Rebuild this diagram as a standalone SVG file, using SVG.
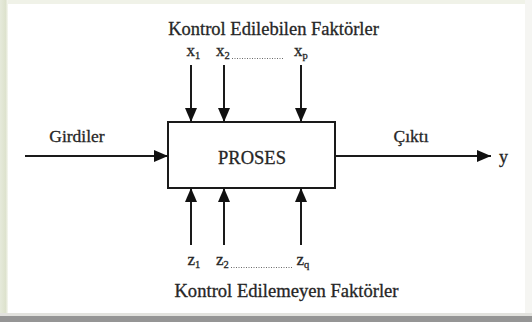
<svg xmlns="http://www.w3.org/2000/svg" width="532" height="322" viewBox="0 0 532 322">
<defs>
<linearGradient id="lg" x1="0" y1="0" x2="1" y2="0">
<stop offset="0" stop-color="#e6eadb"/>
<stop offset="0.7" stop-color="#dde2cd"/>
<stop offset="1" stop-color="#f7f8f2"/>
</linearGradient>
<marker id="ah" viewBox="0 0 14 12" refX="14" refY="6" markerWidth="14" markerHeight="12" markerUnits="userSpaceOnUse" orient="auto">
<path d="M0,0 L14,6 L0,12 Z" fill="#111"/>
</marker>
</defs>
<style>
.t{font-family:"Liberation Serif","Times New Roman",serif;fill:#262626;stroke:#262626;stroke-width:0.3;}
.ln{stroke:#1a1a1a;stroke-width:2;fill:none;}
.dot{stroke:#444;stroke-width:0.8;stroke-dasharray:1 1.5;}
</style>
<rect x="0" y="0" width="532" height="322" fill="#ffffff"/>
<rect x="0" y="0" width="532" height="4" fill="#f0f2e8"/>
<rect x="0" y="0" width="8" height="316" fill="url(#lg)"/>
<rect x="525" y="0" width="7" height="316" fill="#f5f5f2"/>
<rect x="0" y="313" width="532" height="3" fill="#e2e2de"/>
<rect x="0" y="316" width="532" height="6" fill="#959595"/>

<g id="proses">
<rect x="168" y="122" width="167" height="66" class="ln"/>
<text class="t" x="252" y="163.5" font-size="18.5" text-anchor="middle">PROSES</text>
</g>

<g id="kontrol-edilebilen">
<text class="t" x="273.5" y="34.5" font-size="18.5" text-anchor="middle">Kontrol Edilebilen Faktörler</text>
<text class="t" x="186.5" y="56" font-size="17">x<tspan font-size="10.5" dy="3">1</tspan></text>
<text class="t" x="216" y="56" font-size="17">x<tspan font-size="10.5" dy="3">2</tspan></text>
<line class="dot" x1="232" y1="58.5" x2="283" y2="58.5"/>
<text class="t" x="294" y="56" font-size="17">x<tspan font-size="10.5" dy="3">p</tspan></text>
</g>

<g id="kontrol-edilemeyen">
<text class="t" x="187.5" y="265" font-size="17">z<tspan font-size="10.5" dy="3">1</tspan></text>
<text class="t" x="216" y="265" font-size="17">z<tspan font-size="10.5" dy="3">2</tspan></text>
<line class="dot" x1="231" y1="267.5" x2="292" y2="267.5"/>
<text class="t" x="296.5" y="265" font-size="17">z<tspan font-size="10.5" dy="3">q</tspan></text>
<text class="t" x="286.5" y="297" font-size="18.6" text-anchor="middle">Kontrol Edilemeyen Faktörler</text>
</g>

<g id="girdiler">
<text class="t" x="77" y="142" font-size="17.5" text-anchor="middle">Girdiler</text>
</g>

<g id="cikti">
<text class="t" x="411" y="141.5" font-size="17.5" text-anchor="middle">Çıktı</text>
<text class="t" x="499" y="163" font-size="18">y</text>
</g>

<g id="connectors">
<line class="ln" x1="25" y1="156" x2="168" y2="156" marker-end="url(#ah)"/>
<line class="ln" x1="335" y1="156" x2="491" y2="156" marker-end="url(#ah)"/>
<line class="ln" x1="191" y1="65" x2="191" y2="122" marker-end="url(#ah)"/>
<line class="ln" x1="224" y1="65" x2="224" y2="122" marker-end="url(#ah)"/>
<line class="ln" x1="301" y1="65" x2="301" y2="122" marker-end="url(#ah)"/>
<line class="ln" x1="191" y1="245" x2="191" y2="188" marker-end="url(#ah)"/>
<line class="ln" x1="224" y1="245" x2="224" y2="188" marker-end="url(#ah)"/>
<line class="ln" x1="301" y1="245" x2="301" y2="188" marker-end="url(#ah)"/>
</g>
</svg>
